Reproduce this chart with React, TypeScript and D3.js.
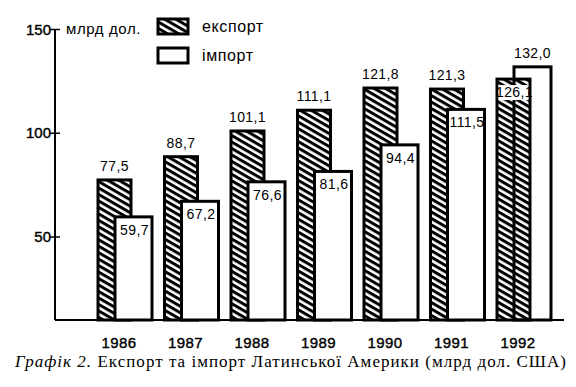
import { useEffect, useRef } from "react"
import * as d3 from "d3"

const years = ["1986", "1987", "1988", "1989", "1990", "1991", "1992"]
const exportValues = [77.5, 88.7, 101.1, 111.1, 121.8, 121.3, 126.1]
const importValues = [59.7, 67.2, 76.6, 81.6, 94.4, 111.5, 132.0]
const yTicks = [50, 100, 150]
const unitLabel = "млрд дол."
const seriesNames = ["експорт", "імпорт"]
const captionItalic = "Графік 2."
const captionText = " Експорт та імпорт Латинської Америки (млрд дол. США)"

const fmt = (v: number) => v.toFixed(1).replace(".", ",")

export default function App() {
  const svgRef = useRef<SVGSVGElement | null>(null)

  useEffect(() => {
    document.body.style.margin = "0"
    if (!svgRef.current) return
    const svg = d3.select(svgRef.current)
    svg.selectAll("*").remove()

    const font = "'Liberation Sans', Arial, sans-serif"

    // hatch for export bars
    const defs = svg.append("defs")
    defs
      .append("pattern")
      .attr("id", "hatch")
      .attr("patternUnits", "userSpaceOnUse")
      .attr("width", 8)
      .attr("height", 5.6)
      .attr("patternTransform", "rotate(30)")
      .append("rect")
      .attr("x", 0)
      .attr("y", 0)
      .attr("width", 8)
      .attr("height", 3)
      .attr("fill", "#000")

    const x = d3.scaleBand().domain(years).range([91.75, 557.25]).paddingInner(0.188).paddingOuter(0.094)
    const y = d3.scaleLinear().domain([10, 150]).range([320, 29.5])

    const expW = 33
    const impOff = 17
    const impW = 37

    // axes
    const axisX = 55
    svg.append("line").attr("x1", axisX).attr("x2", axisX).attr("y1", y(150)).attr("y2", y(10)).attr("stroke", "#000").attr("stroke-width", 2)
    svg.append("line").attr("x1", axisX).attr("x2", 564).attr("y1", y(10)).attr("y2", y(10)).attr("stroke", "#000").attr("stroke-width", 2)

    yTicks.forEach((t) => {
      svg.append("line").attr("x1", axisX - 5).attr("x2", axisX + 5).attr("y1", y(t)).attr("y2", y(t)).attr("stroke", "#000").attr("stroke-width", 1.5)
      svg
        .append("text")
        .attr("x", axisX - 4)
        .attr("y", y(t) + 5)
        .attr("text-anchor", "end")
        .style("font-family", font)
        .style("font-size", "15px")
        .style("stroke", "#000")
        .style("stroke-width", 0.4)
        .text(t)
    })

    svg
      .append("text")
      .attr("x", 66)
      .attr("y", 34)
      .style("font-family", font)
      .style("font-size", "15px")
      .style("letter-spacing", "0.6px")
      .text(unitLabel)

    // legend
    svg.append("rect").attr("x", 158).attr("y", 19).attr("width", 30).attr("height", 15).attr("fill", "url(#hatch)").attr("stroke", "#000").attr("stroke-width", 3)
    svg.append("rect").attr("x", 158).attr("y", 48).attr("width", 30).attr("height", 15).attr("fill", "#fff").attr("stroke", "#000").attr("stroke-width", 3)
    svg.append("text").attr("x", 202).attr("y", 32).style("font-family", font).style("font-size", "16px").style("letter-spacing", "0.6px").text(seriesNames[0])
    svg.append("text").attr("x", 202).attr("y", 61).style("font-family", font).style("font-size", "16px").style("letter-spacing", "0.6px").text(seriesNames[1])

    // bars: the taller one is drawn behind
    years.forEach((yr, i) => {
      const x0 = x(yr) ?? 0
      const bars = [
        { v: exportValues[i], bx: x0, w: expW, fill: "url(#hatch)" },
        { v: importValues[i], bx: x0 + impOff, w: impW, fill: "#fff" },
      ].sort((a, b) => b.v - a.v)

      bars.forEach((b) => {
        svg
          .append("rect")
          .attr("x", b.bx)
          .attr("y", y(b.v))
          .attr("width", b.w)
          .attr("height", y(10) - y(b.v))
          .attr("fill", b.fill)
          .attr("stroke", "#000")
          .attr("stroke-width", 3)
      })

      const back = bars[0]
      const front = bars[1]
      svg
        .append("text")
        .attr("x", back.bx + back.w / 2)
        .attr("y", y(back.v) - 9)
        .attr("text-anchor", "middle")
        .style("font-family", font)
        .style("font-size", "14px")
        .style("letter-spacing", "0.4px")
        .text(fmt(back.v))

      if (front.fill !== "#fff") {
        svg
          .append("rect")
          .attr("x", front.bx + 1.5)
          .attr("y", y(front.v) + 6)
          .attr("width", front.w - 3)
          .attr("height", 15)
          .attr("fill", "#fff")
      }
      svg
        .append("text")
        .attr("x", front.bx + front.w / 2 + 1)
        .attr("y", y(front.v) + 18)
        .attr("text-anchor", "middle")
        .style("font-family", font)
        .style("font-size", "14px")
        .style("letter-spacing", "0.4px")
        .text(fmt(front.v))

      svg
        .append("text")
        .attr("x", x0 + 21)
        .attr("y", 348)
        .attr("text-anchor", "middle")
        .style("font-family", font)
        .style("font-size", "15px")
        .style("letter-spacing", "0.4px")
        .style("stroke", "#000")
        .style("stroke-width", 0.4)
        .text(yr)
    })

    // caption
    const cap = svg
      .append("text")
      .attr("x", 15)
      .attr("y", 367)
      .attr("textLength", 551)
      .attr("lengthAdjust", "spacing")
      .style("font-family", "'Liberation Serif', 'Times New Roman', serif")
      .style("font-size", "17px")
    cap.append("tspan").style("font-style", "italic").text(captionItalic)
    cap.append("tspan").text(captionText)
  }, [])

  return <svg ref={svgRef} width={576} height={387} style={{ display: "block", background: "#fff" }} />
}
